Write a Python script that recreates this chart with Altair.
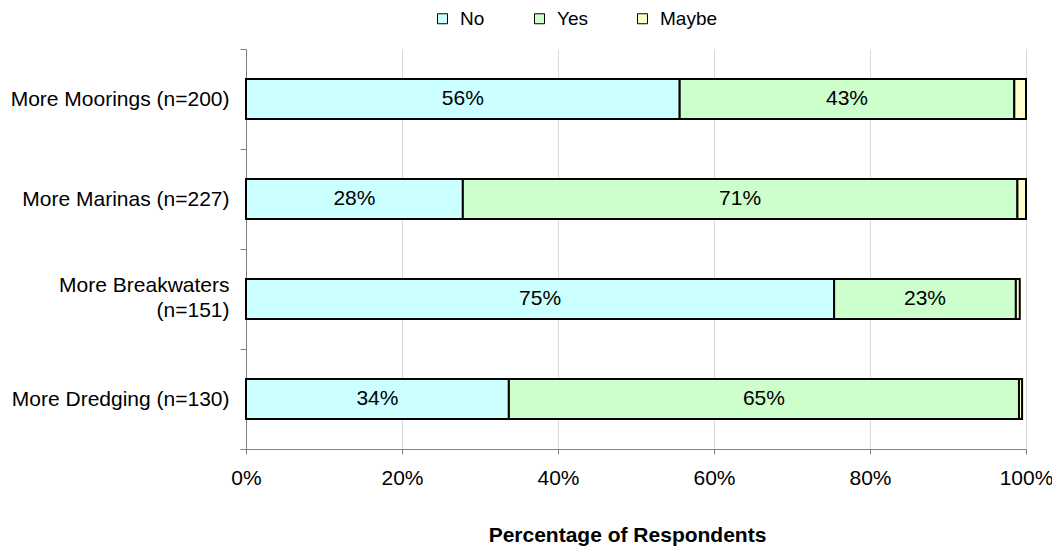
import altair as alt
import pandas as pd

categories = ["More Moorings (n=200)", "More Marinas (n=227)",
              "More Breakwaters\n(n=151)", "More Dredging (n=130)"]
series = ["No", "Yes", "Maybe"]
no_vals = [55.6, 27.8, 75.4, 33.7]
yes_vals = [42.9, 71.1, 23.3, 65.4]
maybe_vals = [1.5, 1.1, 0.5, 0.4]
colors = ["#CCFFFF", "#CCFFCC", "#FFFFCC"]
x_ticks = [0, 20, 40, 60, 80, 100]

rows = []
for i, c in enumerate(categories):
    for j, (s, vals) in enumerate(zip(series, [no_vals, yes_vals, maybe_vals])):
        rows.append({"cat": c, "series": s, "order": j, "value": vals[i]})
df = pd.DataFrame(rows)

FONT = "Liberation Sans"

base = alt.Chart(df).transform_stack(
    stack="value", groupby=["cat"], as_=["x0", "x1"],
    sort=[alt.SortField("order", order="ascending")]
).transform_calculate(
    mid="(datum.x0 + datum.x1) / 2",
    label="format(datum.value, '.0f') + '%'"
)

y_enc = alt.Y(
    "cat:N", sort=categories, title=None,
    scale=alt.Scale(paddingInner=0, paddingOuter=0),
    axis=alt.Axis(
        labelExpr="datum.value ? split(datum.value, '\\n') : ''",
        labelOffset={"condition": {"test": "indexof(datum.value || '', '\\n') >= 0",
                                   "value": -14},
                     "value": 0},
        labelFont=FONT, labelFontSize=21, labelColor="black",
        labelLineHeight=25, labelLimit=400, labelPadding=11,
        tickBand="extent", tickSize=6, tickColor="#808080",
        domainColor="#808080", grid=False,
    ),
)

bars = base.mark_bar(stroke="black", strokeWidth=2, height={"band": 0.4}).encode(
    y=y_enc,
    x=alt.X(
        "x0:Q", scale=alt.Scale(domain=[0, 100]),
        axis=alt.Axis(
            values=x_ticks, labelExpr="datum.value + '%'",
            title="Percentage of Respondents",
            labelFont=FONT, labelFontSize=21, labelColor="black",
            labelPadding=13, labelFlush=False,
            tickSize=5, tickColor="#808080", domainColor="#808080",
            grid=True, gridColor="#D9D9D9",
            titleFont=FONT, titleFontSize=21, titleFontWeight="bold",
            titleColor="black", titleX=381, titleY=92,
            titleBaseline="alphabetic",
        ),
    ),
    x2="x1:Q",
    color=alt.Color(
        "series:N", scale=alt.Scale(domain=series, range=colors),
        legend=alt.Legend(
            title=None, orient="none", direction="horizontal",
            legendX=187, legendY=-40,
            symbolType="square", symbolSize=100,
            symbolStrokeColor="black", symbolStrokeWidth=1,
            labelFont=FONT, labelFontSize=19, labelColor="black",
            labelOffset=8, columnPadding=45,
        ),
    ),
)

labels = base.transform_filter("datum.series != 'Maybe'").mark_text(
    font=FONT, fontSize=21, color="black"
).encode(
    y=alt.Y("cat:N", sort=categories),
    x=alt.X("mid:Q"),
    text="label:N",
)

chart = alt.layer(bars, labels).properties(
    width=780, height=400,
    autosize=alt.AutoSizeParams(type="none"),
    padding={"left": 238, "top": 41, "right": 26, "bottom": 97},
).configure_view(stroke=None)

chart.save("out.html", embed_options={"renderer": "svg", "actions": False})
